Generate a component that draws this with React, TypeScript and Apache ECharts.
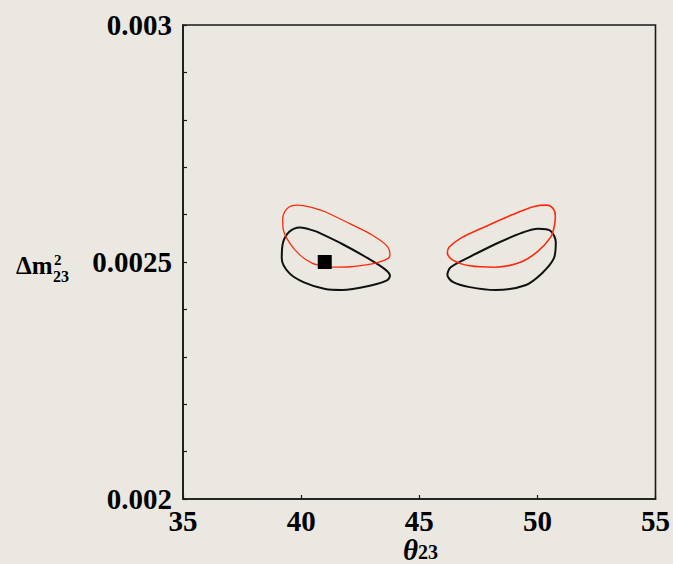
import React, { useEffect, useRef } from "react";
import * as echarts from "echarts";

// Axis ranges and tick labels
const xTicks = [35, 40, 45, 50, 55];
const yLabelValues = [0.002, 0.0025, 0.003];

// Best-fit point (theta23, dm2_23)
const bestFit: [number, number][] = [[41.0, 0.0025]];

// Contours: [theta23, dm2_23] (closed loops)
const redLeft: [number, number][] = [
  [41.02, 0.002606], [42.1, 0.00258], [43.0, 0.002557], [43.63, 0.002534],
  [43.76, 0.002515], [43.63, 0.002506], [43.0, 0.002496], [42.1, 0.00249],
  [41.38, 0.002489], [41.02, 0.002491], [40.48, 0.002497], [39.94, 0.002515],
  [39.49, 0.002542], [39.24, 0.00257], [39.22, 0.002592], [39.41, 0.002613],
  [39.83, 0.00262], [40.4, 0.002616], [41.02, 0.002606],
];
const blackLeft: [number, number][] = [
  [40.66, 0.002564], [41.74, 0.002538], [42.82, 0.002508], [43.54, 0.002485],
  [43.76, 0.002471], [43.63, 0.002461], [43.0, 0.002451], [41.74, 0.002441],
  [41.02, 0.002443], [40.12, 0.002457], [39.49, 0.002477], [39.18, 0.002508],
  [39.24, 0.002542], [39.5, 0.002564], [39.94, 0.002573], [40.66, 0.002564],
];
const redRight: [number, number][] = [
  [47.86, 0.002576], [48.95, 0.0026], [49.86, 0.002617], [50.39, 0.00262],
  [50.68, 0.002612], [50.76, 0.002597], [50.72, 0.002576], [50.57, 0.002553],
  [50.03, 0.002523], [49.31, 0.0025], [48.23, 0.002489], [47.14, 0.002492],
  [46.42, 0.002504], [46.19, 0.002519], [46.26, 0.002531], [46.78, 0.002551],
  [47.86, 0.002576],
];
const blackRight: [number, number][] = [
  [48.23, 0.002538], [49.31, 0.002561], [50.03, 0.00257], [50.55, 0.002566],
  [50.78, 0.002542], [50.7, 0.002508], [50.21, 0.002477], [49.49, 0.002451],
  [48.23, 0.002441], [47.14, 0.002447], [46.42, 0.002458], [46.19, 0.002473],
  [46.33, 0.002489], [47.14, 0.002511], [48.23, 0.002538],
];

const BG = "#ebe8e2";
const RED = "#ff2a0a";
const INK = "#111111";
const FONT = "Liberation Serif";

export default function App() {
  const ref = useRef<HTMLDivElement>(null);
  useEffect(() => {
    document.body.style.margin = "0";
    document.body.style.background = BG;
    if (!ref.current) return;
    const chart = echarts.init(ref.current, null, { renderer: "svg" });
    const contour = (data: [number, number][], color: string, width: number) => ({
      type: "line",
      data,
      showSymbol: false,
      symbol: "none",
      smooth: 0.3,
      lineStyle: { color, width },
      z: 3,
      silent: true,
    });
    const txt = (text: string, left: number, top: number, size: number) => ({
      type: "text",
      left,
      top,
      style: {
        text,
        fontFamily: FONT,
        fontWeight: "bold",
        fontSize: size,
        lineHeight: size,
        fill: "#000",
      },
    });
    chart.setOption({
      animation: false,
      backgroundColor: BG,
      grid: {
        left: 183,
        right: 15,
        top: 25,
        bottom: 65,
        show: true,
        borderColor: "#1a1a1a",
        borderWidth: 1.6,
        backgroundColor: "transparent",
      },
      xAxis: {
        type: "value",
        min: xTicks[0],
        max: xTicks[xTicks.length - 1],
        interval: 5,
        axisLine: { show: true, lineStyle: { color: "#1a1a1a", width: 1.6 } },
        axisTick: { show: true, inside: true, length: 4, lineStyle: { color: "#1a1a1a", width: 1.2 } },
        splitLine: { show: false },
        axisLabel: {
          fontFamily: FONT,
          fontWeight: "bold",
          fontSize: 29,
          color: "#000",
          margin: 7,
          formatter: (v: number) => String(Math.round(v)),
        },
      },
      yAxis: {
        type: "value",
        min: yLabelValues[0],
        max: yLabelValues[yLabelValues.length - 1],
        interval: 0.0001,
        axisLine: { show: true, lineStyle: { color: "#1a1a1a", width: 1.6 } },
        axisTick: { show: true, inside: true, length: 4, lineStyle: { color: "#1a1a1a", width: 1.2 } },
        splitLine: { show: false },
        axisLabel: {
          fontFamily: FONT,
          fontWeight: "bold",
          fontSize: 29,
          color: "#000",
          margin: 11,
          showMinLabel: true,
          showMaxLabel: true,
          formatter: (v: number) => {
            const k = Math.round(v * 10000);
            const hit = yLabelValues.find((t) => Math.round(t * 10000) === k);
            return hit !== undefined ? String(hit) : "";
          },
        },
      },
      graphic: [
        txt("Δm", 16, 253, 25),
        txt("2", 54, 252, 15),
        txt("23", 53, 268, 16),
        {
          type: "text",
          left: 403,
          top: 535,
          style: {
            text: "{t|θ}{s|23}",
            rich: {
              t: {
                fontFamily: FONT,
                fontWeight: "bold",
                fontStyle: "italic",
                fontSize: 29,
                lineHeight: 27,
                padding: [0, 0, 6, 0],
                verticalAlign: "top",
                fill: "#000",
                color: "#000",
              },
              s: {
                fontFamily: FONT,
                fontWeight: "bold",
                fontSize: 20,
                lineHeight: 20,
                verticalAlign: "bottom",
                fill: "#000",
                color: "#000",
              },
            },
          },
        },
      ],
      series: [
        contour(blackLeft, INK, 2),
        contour(blackRight, INK, 2),
        contour(redLeft, RED, 1.3),
        contour(redRight, RED, 1.6),
        {
          type: "scatter",
          data: bestFit,
          symbol: "rect",
          symbolSize: 14,
          itemStyle: { color: "#000", opacity: 1 },
          z: 5,
          silent: true,
        },
      ],
    });
    return () => chart.dispose();
  }, []);
  return <div ref={ref} style={{ width: 673, height: 564 }} />;
}
